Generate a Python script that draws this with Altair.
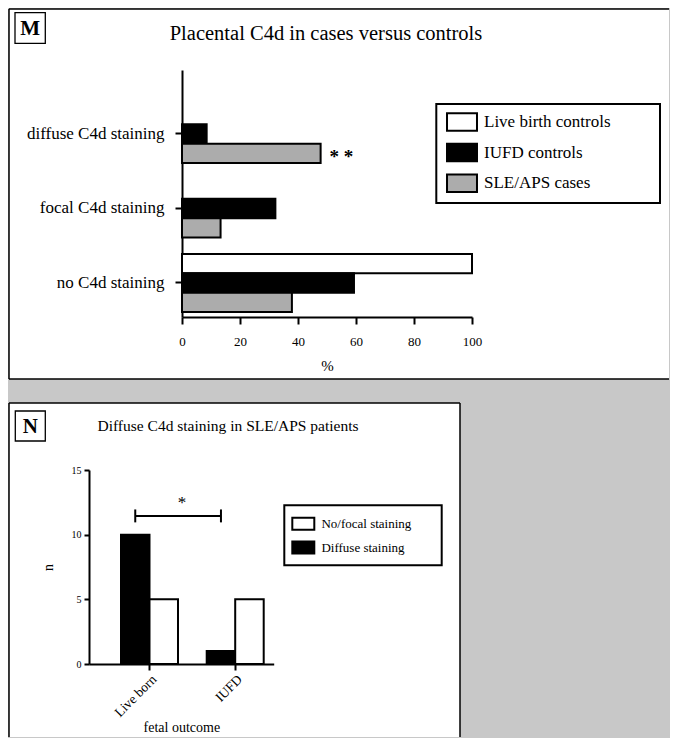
import altair as alt
import pandas as pd

FONT = "Liberation Serif"

# ---------------- Panel M data ----------------
m_categories = ["diffuse C4d staining", "focal C4d staining", "no C4d staining"]
m_groups = ["Live birth controls", "IUFD controls", "SLE/APS cases"]
m_live = [0, 0, 100]
m_iufd = [8.5, 32.2, 59.3]
m_sle = [47.8, 13.3, 37.9]
m_colors = ["white", "black", "#acacac"]
m_title = "Placental C4d in cases versus controls"
m_ticks = [0, 20, 40, 60, 80, 100]

# ---------------- Panel N data ----------------
n_outcomes = ["Live born", "IUFD"]
n_stains = ["No/focal staining", "Diffuse staining"]
n_nofocal = [5, 5]
n_diffuse = [10, 1]
n_title = "Diffuse C4d staining in SLE/APS patients"
n_ticks = [0, 5, 10, 15]
n_bracket = 11.45

m_rows = []
for i, c in enumerate(m_categories):
    for g, vals in zip(m_groups, [m_live, m_iufd, m_sle]):
        m_rows.append({"category": c, "group": g, "value": vals[i]})
m_df = pd.DataFrame(m_rows)

n_rows = []
for i, o in enumerate(n_outcomes):
    n_rows.append({"outcome": o, "stain": "Diffuse staining", "n": n_diffuse[i]})
    n_rows.append({"outcome": o, "stain": "No/focal staining", "n": n_nofocal[i]})
n_df = pd.DataFrame(n_rows)

one = pd.DataFrame({"d": [0]})

M_W, M_H = 660, 370
N_W, N_H = 451, 334


def rule(x, x2, y, y2, w=1.5):
    return alt.Chart(one).mark_rule(color="black", strokeWidth=w).encode(
        x=alt.value(x), x2=alt.value(x2), y=alt.value(y), y2=alt.value(y2))


# ================= Panel M =================
m_xscale = alt.Scale(domain=[0, 100], range=[173, 463], nice=False)
m_xaxis = alt.Axis(values=m_ticks, offset=-62, tickSize=7, tickWidth=2, domainWidth=2,
                   labelFontSize=13, labelPadding=11, labelFlush=False,
                   titleFontSize=15, titlePadding=10, grid=False)
m_yscale = alt.Scale(range=[61, 308], paddingInner=0.221, paddingOuter=0.268, align=0.875)
m_yaxis = alt.Axis(offset=-173, tickSize=7, tickWidth=2, domainWidth=2,
                   labelFontSize=17, labelPadding=11, grid=False)
m_yoff = alt.YOffset("group:N", sort=m_groups, scale=alt.Scale(paddingInner=0, paddingOuter=0))

m_bars = alt.Chart(m_df).transform_filter("datum.value > 0").mark_bar(
    stroke="black", strokeWidth=2).encode(
    x=alt.X("value:Q", title="%", scale=m_xscale, axis=m_xaxis),
    y=alt.Y("category:N", sort=m_categories, title=None, scale=m_yscale, axis=m_yaxis),
    yOffset=m_yoff,
    fill=alt.Fill("group:N", sort=m_groups,
                  scale=alt.Scale(domain=m_groups, range=m_colors),
                  legend=alt.Legend(title=None, orient="none", legendX=443, legendY=103,
                                    padding=0, symbolType="M-1.714,-1H1.714V1H-1.714Z",
                                    symbolSize=306, symbolStrokeWidth=2,
                                    symbolStrokeColor="black", symbolOpacity=1,
                                    labelFontSize=17, labelOffset=12, rowPadding=4.6,
                                    labelFont=FONT, labelColor="black")),
)

m_star_df = pd.DataFrame([{"category": m_categories[0], "group": m_groups[2],
                           "value": m_sle[0], "label": "* *"}])
m_stars = alt.Chart(m_star_df).mark_text(align="left", dx=9, dy=4, fontSize=19,
                                         fontWeight="bold", font=FONT, color="black").encode(
    x=alt.X("value:Q", title="%", scale=m_xscale, axis=m_xaxis),
    y=alt.Y("category:N", sort=m_categories, title=None, scale=m_yscale, axis=m_yaxis),
    yOffset=m_yoff, text="label:N")

m_box = alt.Chart(one).mark_rect(fill="white", stroke="black", strokeWidth=1.3).encode(
    x=alt.value(6), x2=alt.value(36.3), y=alt.value(3.7), y2=alt.value(34.3))
m_letter = alt.Chart(one).mark_text(text="M", fontSize=21, fontWeight="bold", font=FONT,
                                    align="center", baseline="alphabetic", color="black").encode(
    x=alt.value(21.2), y=alt.value(26))
m_head = alt.Chart(one).mark_text(text=m_title, fontSize=20.5, font=FONT, align="center",
                                  baseline="alphabetic", color="black").encode(
    x=alt.value(317), y=alt.value(31))
m_legbox = alt.Chart(one).mark_rect(fill="transparent", stroke="black", strokeWidth=2).encode(
    x=alt.value(427.3), x2=alt.value(651), y=alt.value(95), y2=alt.value(194))

panel_m = alt.layer(
    m_bars, m_stars, m_box, m_letter, m_head, m_legbox,
    rule(0, M_W, 0, 0), rule(0, 0, 0, M_H), rule(0, M_W, M_H, M_H),
).properties(width=M_W, height=M_H)

# ================= Panel N =================
n_xscale = alt.Scale(range=[80, 264.7], paddingInner=0.335, paddingOuter=0.245, align=0.762)
n_xaxis = alt.Axis(offset=261 - N_H, tickSize=6, tickWidth=2, domainWidth=2, labelAngle=-45,
                   labelFontSize=13.5, labelPadding=2, titleFontSize=14, titlePadding=2,
                   grid=False)
n_xoff = alt.XOffset("stain:N", sort=["Diffuse staining", "No/focal staining"],
                     scale=alt.Scale(paddingInner=0, paddingOuter=0))
n_yscale = alt.Scale(domain=[0, 15], range=[261, 67], nice=False)
n_yaxis = alt.Axis(values=n_ticks, offset=-80, tickSize=5, tickWidth=2, domainWidth=2,
                   labelFontSize=10, labelPadding=3, labelFlush=False,
                   titleFontSize=14, titlePadding=16, grid=False)


def n_x():
    return alt.X("outcome:N", sort=n_outcomes, title="fetal outcome", scale=n_xscale, axis=n_xaxis)


n_bars = alt.Chart(n_df).mark_bar(stroke="black", strokeWidth=2).encode(
    x=n_x(), xOffset=n_xoff,
    y=alt.Y("n:Q", title="n", scale=n_yscale, axis=n_yaxis),
    fill=alt.Fill("stain:N", scale=alt.Scale(domain=n_stains, range=["white", "black"]),
                  legend=alt.Legend(title=None, orient="none", legendX=287.3, legendY=113.8,
                                    padding=0, symbolType="M-1.833,-1H1.833V1H-1.833Z",
                                    symbolSize=144, symbolStrokeWidth=2,
                                    symbolStrokeColor="black", symbolOpacity=1,
                                    labelFontSize=13, labelOffset=11.1, rowPadding=3.8,
                                    labelFont=FONT, labelColor="black")),
)

br_df = pd.DataFrame([{"outcome": o, "stain": "Diffuse staining", "n": n_bracket,
                       "lo": n_bracket - 0.5, "hi": n_bracket + 0.5} for o in n_outcomes])
n_line = alt.Chart(br_df).mark_line(color="black", strokeWidth=2).encode(
    x=n_x(), xOffset=n_xoff,
    y=alt.Y("n:Q", title="n", scale=n_yscale, axis=n_yaxis))
n_caps = alt.Chart(br_df).mark_rule(color="black", strokeWidth=2).encode(
    x=n_x(), xOffset=n_xoff,
    y=alt.Y("lo:Q", title="n", scale=n_yscale, axis=n_yaxis), y2="hi:Q")
n_star = alt.Chart(one).mark_text(text="*", fontSize=17, font=FONT, align="center",
                                  baseline="middle", color="black").encode(
    x=alt.value(173), y=alt.value(100))

n_box = alt.Chart(one).mark_rect(fill="white", stroke="black", strokeWidth=1.3).encode(
    x=alt.value(6.3), x2=alt.value(36.3), y=alt.value(8), y2=alt.value(38))
n_letter = alt.Chart(one).mark_text(text="N", fontSize=21, fontWeight="bold", font=FONT,
                                    align="center", baseline="alphabetic", color="black").encode(
    x=alt.value(21.3), y=alt.value(30))
n_head = alt.Chart(one).mark_text(text=n_title, fontSize=15.5, font=FONT, align="center",
                                  baseline="alphabetic", color="black").encode(
    x=alt.value(219), y=alt.value(28))
n_legbox = alt.Chart(one).mark_rect(fill="transparent", stroke="black", strokeWidth=2).encode(
    x=alt.value(275.3), x2=alt.value(432.7), y=alt.value(102.3), y2=alt.value(162.3))

panel_n = alt.layer(
    n_bars, n_line, n_caps, n_star, n_box, n_letter, n_head, n_legbox,
    rule(0, N_W, 0, 0), rule(0, 0, 0, N_H), rule(N_W, N_W, 0, N_H),
).properties(width=N_W, height=N_H)

chart = alt.vconcat(panel_m, panel_n, spacing=22).resolve_scale(
    fill="independent"
).properties(
    padding=0, background="#c8c8c8"
).configure_view(
    strokeWidth=0, fill="white"
).configure_axis(
    labelFont=FONT, titleFont=FONT, labelColor="black", titleColor="black",
    domainColor="black", tickColor="black", titleFontWeight="normal"
).configure_legend(
    labelFont=FONT
).configure_text(font=FONT)

chart.save("out.html", embed_options={"renderer": "svg", "actions": False})
